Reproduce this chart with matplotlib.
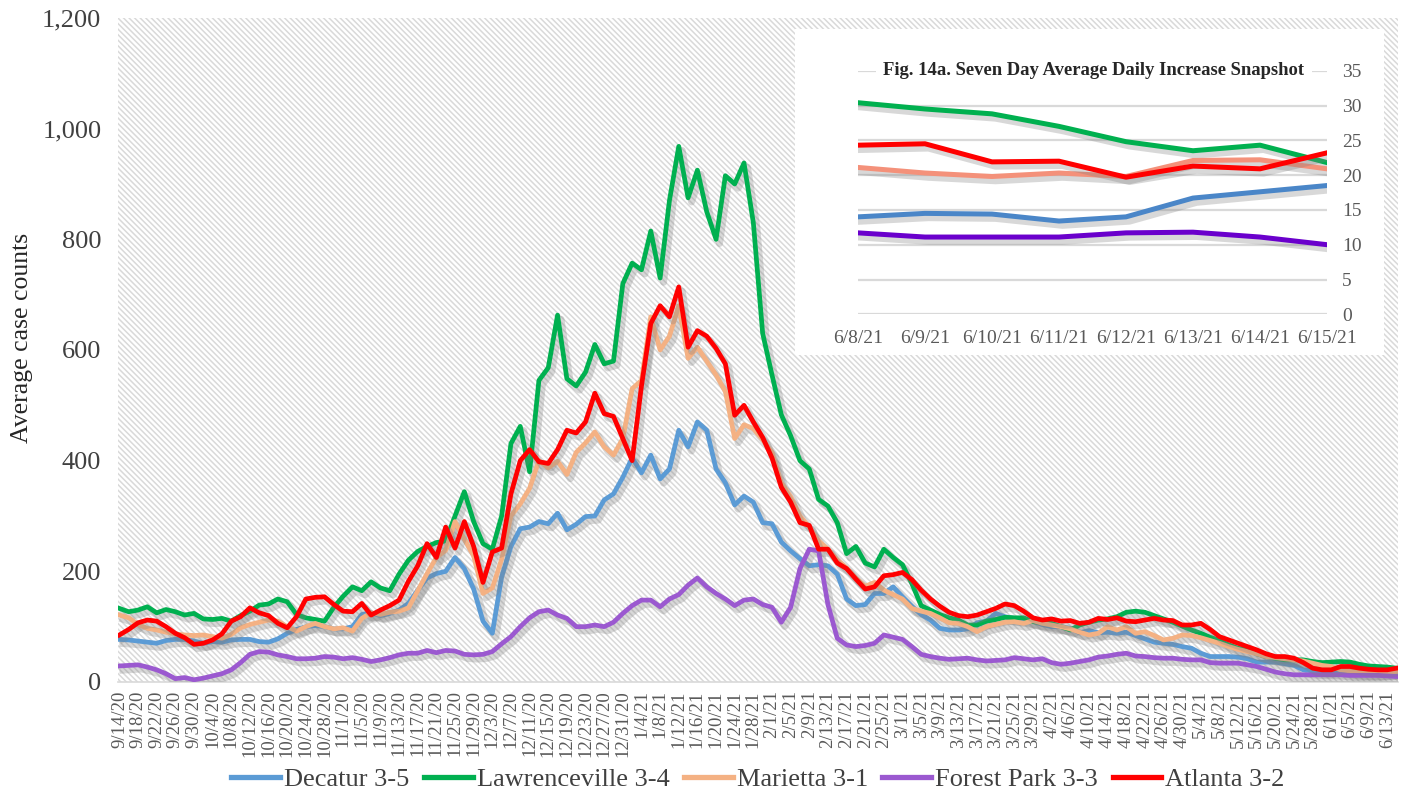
import numpy as np
import pandas as pd
import matplotlib
matplotlib.use("Agg")
import matplotlib.pyplot as plt
import matplotlib.patheffects as pe
from matplotlib.patches import Rectangle

plt.rcParams['font.family'] = ['Liberation Serif', 'DejaVu Serif']
plt.rcParams['hatch.linewidth'] = 1.1

# ---------------- data (every second day, 9/14/20 - 6/15/21) ----------------
start = pd.Timestamp('2020-09-14')
dates = pd.date_range('2020-09-14', '2021-06-15', freq='2D')

decatur = [77, 76, 74, 72, 70, 75, 77, 77, 74, 70,
           73, 72, 76, 77, 77, 73, 72, 78, 88, 95,
           100, 102, 100, 96, 96, 100, 122, 125, 120, 124,
           130, 142, 166, 188, 196, 200, 225, 205, 168, 110,
           88, 190, 245, 277, 280, 290, 286, 305, 275, 285,
           299, 300, 329, 340, 370, 405, 378, 410, 367, 385,
           455, 425, 470, 455, 385, 360, 320, 336, 325, 288,
           286, 253, 237, 223, 210, 212, 210, 195, 150, 138,
           140, 160, 160, 172, 154, 137, 122, 112, 97, 94,
           94, 96, 107, 110, 124, 118, 115, 113, 110, 104,
           100, 100, 97, 89, 93, 89, 90, 88, 90, 84,
           78, 72, 70, 68, 64, 61, 52, 46, 46, 46,
           45, 42, 36, 36, 36, 33, 30, 22, 20, 19,
           19, 18, 16, 16, 16, 16, 17, 18]

lawrenceville = [133, 127, 130, 136, 125, 131, 127, 121, 124, 114,
                 113, 115, 110, 120, 128, 139, 141, 150, 145, 122,
                 116, 113, 110, 135, 155, 172, 165, 181, 170, 165,
                 195, 220, 236, 245, 252, 255, 300, 344, 290, 250,
                 240, 300, 431, 462, 380, 545, 568, 663, 548, 535,
                 560, 610, 575, 580, 720, 757, 745, 815, 730, 870,
                 968, 875, 925, 850, 800, 915, 900, 938, 830, 630,
                 555, 483, 445, 400, 385, 330, 318, 288, 232, 245,
                 215, 208, 240, 225, 212, 178, 138, 130, 122, 116,
                 112, 103, 103, 110, 113, 117, 116, 116, 109, 107,
                 106, 100, 94, 103, 108, 112, 114, 118, 126, 128,
                 126, 120, 114, 108, 101, 94, 88, 81, 75, 67,
                 61, 58, 51, 46, 43, 40, 40, 40, 37, 35,
                 36, 37, 36, 32, 29, 28, 27, 25]

marietta = [121, 116, 104, 97, 94, 90, 87, 85, 84, 85,
            82, 79, 86, 98, 104, 108, 112, 110, 100, 92,
            100, 106, 100, 96, 98, 92, 115, 125, 122, 126,
            128, 134, 165, 196, 225, 238, 290, 258, 228, 160,
            170, 222, 300, 322, 350, 400, 387, 399, 375, 415,
            432, 452, 425, 410, 440, 530, 545, 660, 600, 625,
            680, 585, 605, 580, 555, 525, 440, 465, 458, 438,
            415, 360, 335, 300, 280, 255, 240, 221, 206, 188,
            173, 180, 166, 158, 150, 133, 128, 124, 116, 107,
            106, 100, 91, 100, 104, 108, 109, 106, 111, 106,
            103, 100, 96, 90, 85, 88, 100, 94, 100, 88,
            91, 84, 76, 79, 85, 84, 80, 75, 70, 64,
            59, 55, 51, 46, 44, 42, 40, 38, 34, 30,
            28, 22, 20, 18, 17, 17, 18, 19]

forest_park = [29, 30, 31, 27, 22, 15, 6, 8, 4, 7,
               11, 15, 22, 35, 50, 55, 54, 49, 46, 42,
               42, 43, 46, 45, 42, 44, 41, 37, 40, 44,
               49, 52, 52, 57, 53, 57, 56, 50, 49, 50,
               55, 69, 82, 100, 116, 127, 130, 121, 115, 100,
               100, 103, 100, 108, 124, 138, 148, 148, 136, 150,
               158, 175, 188, 172, 160, 150, 138, 148, 150, 140,
               135, 108, 135, 205, 240, 237, 140, 79, 67, 64,
               66, 70, 85, 81, 77, 64, 50, 46, 43, 41,
               42, 43, 40, 38, 39, 40, 44, 42, 40, 42,
               35, 32, 34, 37, 40, 45, 47, 50, 52, 47,
               46, 44, 43, 43, 41, 40, 40, 35, 34, 34,
               34, 31, 28, 23, 18, 15, 13, 13, 13, 13,
               13, 13, 12, 12, 12, 12, 11, 10]

atlanta = [85, 95, 107, 112, 110, 100, 88, 80, 68, 70,
           76, 87, 110, 118, 134, 125, 120, 106, 98, 118,
           150, 153, 154, 140, 128, 127, 142, 121, 130, 138,
           148, 182, 210, 250, 225, 280, 242, 290, 245, 180,
           235, 242, 340, 400, 420, 398, 395, 420, 455, 450,
           470, 522, 485, 480, 440, 400, 535, 648, 680, 660,
           714, 605, 635, 625, 603, 575, 482, 500, 470, 442,
           405, 352, 325, 288, 283, 240, 240, 215, 205, 186,
           168, 172, 192, 194, 198, 185, 166, 150, 137, 126,
           120, 118, 121, 127, 133, 141, 138, 128, 116, 112,
           114, 110, 111, 106, 108, 115, 113, 116, 110, 109,
           112, 115, 112, 111, 103, 103, 106, 95, 82, 76,
           70, 64, 58, 51, 46, 46, 43, 35, 25, 22,
           22, 28, 28, 25, 23, 22, 22, 25]

series_names = ['Decatur 3-5', 'Lawrenceville 3-4', 'Marietta 3-1',
                'Forest Park 3-3', 'Atlanta 3-2']
main_colors = ['#5b9bd5', '#00b050', '#f4b183', '#9b59d0', '#ff0000']

y_ticks = [0, 200, 400, 600, 800, 1000, 1200]
y_tick_labels = ['0', '200', '400', '600', '800', '1,000', '1,200']

# inset snapshot
inset_dates = ['6/8/21', '6/9/21', '6/10/21', '6/11/21', '6/12/21',
               '6/13/21', '6/14/21', '6/15/21']
inset_decatur = [14.0, 14.5, 14.4, 13.4, 14.0, 16.7, 17.6, 18.5]
inset_lawrenceville = [30.4, 29.5, 28.8, 27.0, 24.8, 23.5, 24.3, 21.8]
inset_marietta = [21.1, 20.3, 19.8, 20.3, 19.8, 22.1, 22.2, 20.9]
inset_forest_park = [11.7, 11.1, 11.1, 11.1, 11.7, 11.8, 11.1, 10.0]
inset_atlanta = [24.3, 24.5, 21.9, 22.0, 19.7, 21.3, 20.9, 23.2]
inset_colors = ['#4a86c8', '#00b04f', '#f4917a', '#6a00cc', '#ff0000']
inset_ticks = [0, 5, 10, 15, 20, 25, 30, 35]

# ---------------- figure ----------------
W, H = 1408, 795
fig = plt.figure(figsize=(W / 100, H / 100), dpi=100)
fig.patch.set_facecolor('white')

ax = fig.add_axes([118 / W, 1 - 682 / H, (1398 - 118) / W, (682 - 18) / H])
ax.set_facecolor('white')
ax.add_patch(Rectangle((0, 0), 1, 1, transform=ax.transAxes, facecolor='white',
                       edgecolor='#d9d9d9', hatch='\\' * 6, linewidth=0, zorder=0))

xd = (dates - start).days.values
shadow = [pe.SimpleLineShadow(offset=(2.5, -3), shadow_color='#7f7f7f', alpha=0.3, linewidth=5.0),
          pe.Normal()]
all_series = [decatur, lawrenceville, marietta, forest_park, atlanta]
for vals, name, col in zip(all_series, series_names, main_colors):
    ax.plot(xd, vals, color=col, lw=3.4, label=name, solid_joinstyle='round',
            path_effects=shadow, zorder=3)

ax.set_xlim(-0.3, 274.3)
ax.set_ylim(0, 1200)
ax.set_yticks(y_ticks)
ax.set_yticklabels(y_tick_labels, fontsize=19, color='#404040')

tick_dates = pd.date_range('2020-09-14', '2021-06-13', freq='4D')
tick_pos = (tick_dates - start).days.values
tick_labels = [f"{t.month}/{t.day}/{t.strftime('%y')}" for t in tick_dates]
ax.set_xticks(tick_pos)
ax.set_xticklabels(tick_labels, rotation=90, fontsize=13.5, color='#595959')
ax.tick_params(axis='both', length=0)
ax.tick_params(axis='x', pad=6)
ax.tick_params(axis='y', pad=12)
for s in ['top', 'right', 'left']:
    ax.spines[s].set_visible(False)
ax.spines['bottom'].set_color('#d9d9d9')
ax.spines['bottom'].set_linewidth(1.2)

fig.text(22 / W, 1 - 338 / H, 'Average case counts', rotation=90, fontsize=18.5,
         color='#262626', ha='center', va='center')

leg = ax.legend(loc='center', ncol=5, frameon=False, fontsize=19, handlelength=1.85,
                handletextpad=0.15, columnspacing=0.55,
                bbox_to_anchor=(758 / W, 1 - 779 / H), bbox_transform=fig.transFigure)
for t in leg.get_texts():
    t.set_color('#404040')
for h in leg.get_lines():
    h.set_linewidth(3.8)
    h.set_path_effects([])

# ---------------- inset ----------------
fig.patches.append(Rectangle((795 / W, 1 - 355 / H), (1384 - 795) / W, (355 - 29) / H,
                             transform=fig.transFigure, facecolor='white',
                             edgecolor='none', zorder=5))
iax = fig.add_axes([858 / W, 1 - 314.3 / H, (1327 - 858) / W, (314.3 - 70.7) / H], zorder=6)
iax.set_facecolor('none')
ix = np.arange(len(inset_dates))
for y in inset_ticks:
    iax.axhline(y, color='#d9d9d9', lw=1.6, zorder=1)
ishadow = [pe.SimpleLineShadow(offset=(2.5, -3), shadow_color='#7f7f7f', alpha=0.3, linewidth=5.2),
           pe.Normal()]
inset_series = [inset_decatur, inset_lawrenceville, inset_marietta, inset_forest_park, inset_atlanta]
for vals, col in zip(inset_series, inset_colors):
    iax.plot(ix, vals, color=col, lw=3.6, path_effects=ishadow, zorder=3,
             solid_joinstyle='round')
iax.set_xlim(0, len(inset_dates) - 1)
iax.set_ylim(0, 35)
iax.yaxis.tick_right()
iax.set_yticks(inset_ticks)
iax.set_yticklabels([str(v) for v in inset_ticks], fontsize=14, color='#595959')
iax.set_xticks(ix)
iax.set_xticklabels(inset_dates, fontsize=14, color='#595959')
iax.tick_params(axis='both', length=0)
iax.tick_params(axis='y', pad=11)
iax.tick_params(axis='x', pad=11)
for s in iax.spines.values():
    s.set_visible(False)
iax.text((1094 - 858) / (1327 - 858), 35,
         'Fig. 14a. Seven Day Average Daily Increase Snapshot',
         transform=iax.get_yaxis_transform(), ha='center', va='center',
         fontsize=13.4, fontweight='bold', color='#262626', zorder=4,
         bbox=dict(boxstyle='square,pad=0.4', facecolor='white', edgecolor='none'))

fig.savefig('out.png', dpi=100, facecolor='white')
